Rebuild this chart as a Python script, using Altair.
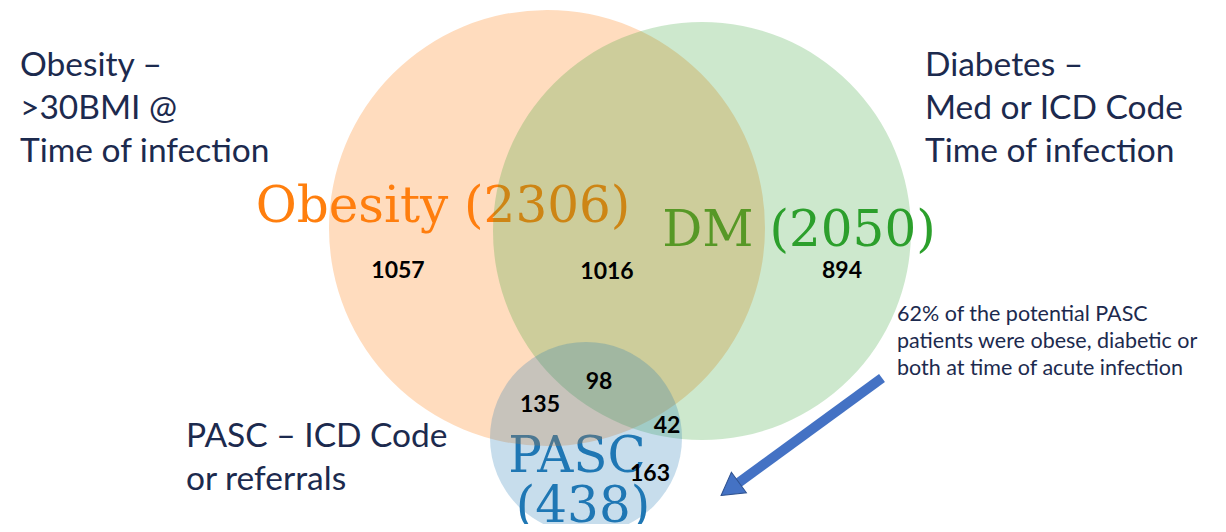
import altair as alt
import pandas as pd

# ---------------- data ----------------
set_labels = ["Obesity (2306)", "DM (2050)", "PASC", "(438)"]
set_label_colors = ["#ff7f0e", "#2ca02c", "#1f77b4", "#1f77b4"]
set_label_x = [443, 799, 577, 583]
set_label_y = [222, 246, 472, 522]

circle_names = ["Obesity", "DM", "PASC"]
circle_cx = [547, 702, 586]
circle_cy = [228, 231, 438]
circle_r = [218, 209, 96]
circle_colors = ["#ff7f0e", "#2ca02c", "#1f77b4"]
circle_opacity = [0.27, 0.24, 0.25]

region_counts = ["1057", "1016", "894", "98", "135", "42", "163"]
region_x = [398, 607, 842, 599, 540, 667, 650]
region_y = [271, 272, 271, 382, 405, 426, 474]

note_lines = [
    "Obesity –", ">30BMI @", "Time of infection",
    "Diabetes –", "Med or ICD Code", "Time of infection",
    "PASC – ICD Code", "or referrals",
]
note_x = [20, 20, 20, 925, 925, 925, 186, 186]
note_y = [76, 119, 162, 76, 119, 162, 447, 490]

callout_lines = [
    "62% of the potential PASC",
    "patients were obese, diabetic or",
    "both at time of acute infection",
]
callout_x = [897, 897, 897]
callout_y = [321, 348, 375]

arrow_start = [882, 378]
arrow_end = [730, 489]
arrow_angle = [233.8]

# ---------------- chart ----------------
W, H = 1210, 516
xs = alt.Scale(domain=[8, 8 + W], nice=False, zero=False)
ys = alt.Scale(domain=[8, 8 + H], reverse=True, nice=False, zero=False)
X = lambda f: alt.X(f, type="quantitative", scale=xs, axis=None)
Y = lambda f: alt.Y(f, type="quantitative", scale=ys, axis=None)

labels_df = pd.DataFrame({"t": set_labels, "c": set_label_colors,
                          "x": set_label_x, "y": set_label_y})
circles_df = pd.DataFrame({"n": circle_names, "x": circle_cx, "y": circle_cy,
                           "s": [(2 * r) ** 2 for r in circle_r],
                           "c": circle_colors, "o": circle_opacity})
regions_df = pd.DataFrame({"t": region_counts, "x": region_x, "y": region_y})
notes_df = pd.DataFrame({"t": note_lines, "x": note_x, "y": note_y})
callout_df = pd.DataFrame({"t": callout_lines, "x": callout_x, "y": callout_y})
arrow_df = pd.DataFrame({"x": [arrow_start[0]], "y": [arrow_start[1]],
                         "x2": [arrow_end[0]], "y2": [arrow_end[1]]})
head_df = pd.DataFrame({"x": [arrow_end[0]], "y": [arrow_end[1]], "a": arrow_angle})

big_labels = alt.Chart(labels_df).mark_text(
    font="DejaVu Serif", fontSize=50, align="center", baseline="alphabetic"
).encode(x=X("x"), y=Y("y"), text="t:N", color=alt.Color("c:N", scale=None))

circles = alt.Chart(circles_df).mark_circle().encode(
    x=X("x"), y=Y("y"),
    size=alt.Size("s:Q", scale=None),
    color=alt.Color("c:N", scale=None),
    opacity=alt.Opacity("o:Q", scale=None),
)

regions = alt.Chart(regions_df).mark_text(
    font="Lato", fontSize=23, fontWeight="bold", align="center",
    baseline="middle", color="#000000"
).encode(x=X("x"), y=Y("y"), text="t:N")

notes = alt.Chart(notes_df).mark_text(
    font="Lato", fontSize=33.5, align="left", baseline="alphabetic", color="#1c2a4e"
).encode(x=X("x"), y=Y("y"), text="t:N")

callout = alt.Chart(callout_df).mark_text(
    font="Lato", fontSize=21.5, align="left", baseline="alphabetic", color="#1c2a4e"
).encode(x=X("x"), y=Y("y"), text="t:N")

shaft = alt.Chart(arrow_df).mark_rule(
    color="#4472c4", strokeWidth=10, strokeCap="butt"
).encode(x=X("x"), y=Y("y"), x2="x2:Q", y2="y2:Q")

head = alt.Chart(head_df).mark_point(
    shape="triangle-up", filled=True, size=650, color="#4472c4", opacity=1,
    stroke="#2f528f", strokeWidth=1
).encode(x=X("x"), y=Y("y"), angle=alt.Angle("a:Q", scale=None))

chart = alt.layer(
    big_labels, circles, regions, notes, callout, shaft, head
).properties(
    width=W, height=H, autosize="none", padding=0
).configure_view(stroke=None)

chart.save("out.html", embed_options={"renderer": "svg", "actions": False})
